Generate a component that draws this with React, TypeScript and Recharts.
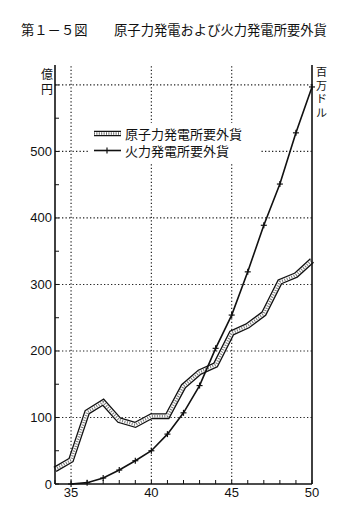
import { Legend, Line, LineChart, ReferenceLine, XAxis, YAxis } from "recharts";

// 年度 (昭和), 億円
const years = [34, 35, 36, 37, 38, 39, 40, 41, 42, 43, 44, 45, 46, 47, 48, 49, 50];
const nuclear = [22, 36, 108, 123, 96, 89, 102, 102, 147, 168, 179, 227, 238, 256, 304, 314, 336];
const thermal = [null, 0, 2, 9, 21, 35, 50, 75, 107, 148, 204, 254, 319, 389, 451, 528, 597];

const leftTicks = [0, 50, 100, 150, 200, 250, 300, 350, 400, 450, 500, 550, 600];
const leftLabels = [0, 100, 200, 300, 400, 500];
const rightTicks = [50, 100, 150];
const xTicks = [34, 35, 36, 37, 38, 39, 40, 41, 42, 43, 44, 45, 46, 47, 48, 49, 50];
const xLabels = [35, 40, 45, 50];
const gridY = [100, 200, 300, 400, 500, 600];
const gridX = [35, 40, 45];

const data = years.map((y, i) => ({ year: y, nuclear: nuclear[i], thermal: thermal[i] }));

const NUM_FONT = "'Liberation Sans', Arial, sans-serif";
const JP_FONT = "'Noto Sans CJK JP', sans-serif";

function LeftTick({ x, y, payload }: any) {
  const ax = x + 3;
  const v = payload.value;
  return (
    <g>
      <line x1={ax} x2={ax + 4} y1={y} y2={y} stroke="#111" strokeWidth={1} />
      {leftLabels.includes(v) && (
        <text x={x} y={y + 4.5} textAnchor="end" fontSize={13} fontFamily={NUM_FONT} fill="#111">
          {v}
        </text>
      )}
    </g>
  );
}

function RightTick({ x, y, payload }: any) {
  const ax = x - 2;
  return (
    <g>
      <line x1={ax - 4} x2={ax} y1={y} y2={y} stroke="#111" strokeWidth={1} />
      <text x={x} y={y + 4.5} textAnchor="start" fontSize={13} fontFamily={NUM_FONT} fill="#111">
        {payload.value}
      </text>
    </g>
  );
}

function BottomTick({ x, y, payload }: any) {
  const ay = y - 2;
  const v = payload.value;
  return (
    <g>
      <line x1={x} x2={x} y1={ay - 4} y2={ay} stroke="#111" strokeWidth={1} />
      {xLabels.includes(v) && (
        <text x={x} y={y + 11} textAnchor="middle" fontSize={13} fontFamily={NUM_FONT} fill="#111">
          {v}
        </text>
      )}
    </g>
  );
}

function CrossDot({ cx, cy, value }: any) {
  if (value == null || cx == null || cy == null) return null;
  return (
    <g>
      <line x1={cx - 3} x2={cx + 3} y1={cy} y2={cy} stroke="#111" strokeWidth={1.2} />
      <line x1={cx} x2={cx} y1={cy - 3} y2={cy + 3} stroke="#111" strokeWidth={1.2} />
    </g>
  );
}

function LegendBox() {
  return (
    <div style={{ background: "#fff", fontFamily: JP_FONT, fontSize: 13, color: "#111", padding: "2px 0 3px 3px", lineHeight: "17px", whiteSpace: "nowrap" }}>
      <div style={{ display: "flex", alignItems: "center" }}>
        <svg width={30} height={17}>
          <line x1={1} x2={28} y1={8.5} y2={8.5} stroke="#111" strokeWidth={5.5} />
          <line x1={1} x2={28} y1={8.5} y2={8.5} stroke="#fff" strokeWidth={3} />
          <line x1={1} x2={28} y1={8.5} y2={8.5} stroke="#666" strokeWidth={2.4} strokeDasharray="1 1.4" />
        </svg>
        <span style={{ marginLeft: 2 }}>原子力発電所要外貨</span>
      </div>
      <div style={{ display: "flex", alignItems: "center" }}>
        <svg width={30} height={17}>
          <line x1={1} x2={28} y1={8.5} y2={8.5} stroke="#111" strokeWidth={1.6} />
          <line x1={14} x2={14} y1={5.5} y2={11.5} stroke="#111" strokeWidth={1.2} />
        </svg>
        <span style={{ marginLeft: 2 }}>火力発電所要外貨</span>
      </div>
    </div>
  );
}

export default function App() {
  return (
    <div style={{ position: "fixed", left: 0, top: 0, width: 349, height: 508, background: "#fff" }}>
      <div
        style={{
          position: "absolute",
          left: 21,
          top: 20,
          fontFamily: JP_FONT,
          fontSize: 13.3,
          color: "#111",
          whiteSpace: "pre",
        }}
      >
        第１－５図　　原子力発電および火力発電所要外貨
      </div>
      <div style={{ position: "absolute", left: 41, top: 66, width: 13, fontFamily: JP_FONT, fontSize: 12, lineHeight: "15px", color: "#111" }}>
        億<br />円
      </div>
      <div style={{ position: "absolute", left: 316, top: 65, width: 12, fontFamily: JP_FONT, fontSize: 11, lineHeight: "13.5px", color: "#111" }}>
        百<br />万<br />ド<br />ル
      </div>
      <LineChart width={349} height={508} data={data} margin={{ top: 65, right: 7, bottom: 4, left: 10 }}>
        <XAxis
          dataKey="year"
          type="number"
          domain={[34, 50]}
          ticks={xTicks}
          interval={0}
          tickLine={false}
          tickSize={0}
          tickMargin={2}
          tick={<BottomTick />}
          axisLine={{ stroke: "#111", strokeWidth: 1.6 }}
          height={20}
        />
        <XAxis
          xAxisId="top"
          orientation="top"
          dataKey="year"
          type="number"
          domain={[34, 50]}
          tick={false}
          tickLine={false}
          height={0}
          axisLine={{ stroke: "#111", strokeWidth: 1.6 }}
        />
        <YAxis
          yAxisId="left"
          type="number"
          domain={[0, 630]}
          ticks={leftTicks}
          interval={0}
          tickLine={false}
          tickSize={0}
          tickMargin={3}
          tick={<LeftTick />}
          axisLine={{ stroke: "#111", strokeWidth: 1.6 }}
          width={45}
        />
        <YAxis
          yAxisId="right"
          orientation="right"
          type="number"
          domain={[0, 178]}
          ticks={rightTicks}
          interval={0}
          tickLine={false}
          tickSize={0}
          tickMargin={2}
          tick={<RightTick />}
          axisLine={{ stroke: "#111", strokeWidth: 1.6 }}
          width={30}
        />
        {gridY.map((v) => (
          <ReferenceLine key={`gy${v}`} xAxisId={0} yAxisId="left" y={v} stroke="#222" strokeWidth={1.2} strokeDasharray="1.3 2.2" />
        ))}
        {gridX.map((v) => (
          <ReferenceLine key={`gx${v}`} xAxisId={0} yAxisId="left" x={v} stroke="#222" strokeWidth={1.2} strokeDasharray="1.3 2.2" />
        ))}
        <Legend
          layout="vertical"
          align="center"
          verticalAlign="middle"
          content={() => <LegendBox />}
          wrapperStyle={{ position: "absolute", left: 90, top: 123, width: 170, height: "auto" }}
        />
        <Line
          key="n-outer"
          yAxisId="left"
          dataKey="nuclear"
          stroke="#111"
          strokeWidth={6}
          dot={false}
          legendType="none"
          isAnimationActive={false}
        />
        <Line
          key="n-inner"
          yAxisId="left"
          dataKey={(d: any) => d.nuclear}
          stroke="#fff"
          strokeWidth={3.4}
          dot={false}
          legendType="none"
          isAnimationActive={false}
        />
        <Line
          key="n-hatch"
          yAxisId="left"
          dataKey={(d: any) => d.nuclear + 0}
          stroke="#777"
          strokeWidth={2.6}
          strokeDasharray="1 1.5"
          dot={false}
          legendType="none"
          isAnimationActive={false}
        />
        <Line
          yAxisId="left"
          dataKey="thermal"
          stroke="#111"
          strokeWidth={1.6}
          dot={<CrossDot />}
          connectNulls={false}
          isAnimationActive={false}
        />
      </LineChart>
    </div>
  );
}
